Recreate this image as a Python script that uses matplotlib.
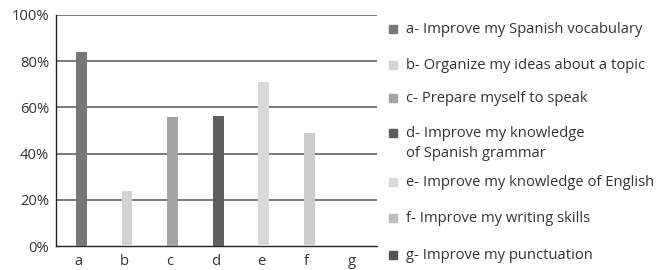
import matplotlib.pyplot as plt
from matplotlib.patches import Rectangle

plt.rcParams["font.family"] = ["Open Sans", "DejaVu Sans"]

categories = ["a", "b", "c", "d", "e", "f", "g"]
values = [83.8, 24.0, 56.0, 56.4, 71.1, 49.1, 0.0]
bar_colors = ["#77777a", "#d3d3d5", "#a4a4a6", "#5e5e60", "#d9d9da", "#cdcdcf", "#555557"]
legend_labels = [
    "a- Improve my Spanish vocabulary",
    "b- Organize my ideas about a topic",
    "c- Prepare myself to speak",
    "d- Improve my knowledge\nof Spanish grammar",
    "e- Improve my knowledge of English",
    "f- Improve my writing skills",
    "g- Improve my punctuation",
]
yticks = [0, 20, 40, 60, 80, 100]

TXT = "#333333"
W, H = 667, 270
FS = 10.6

fig = plt.figure(figsize=(W / 100, H / 100), dpi=100)
ax = fig.add_axes([56 / W, 1 - 246 / H, (377 - 56) / W, (246 - 15) / H])

xs = [i + 0.06 for i in range(len(categories))]
ax.bar(xs, values, width=0.24, color=bar_colors, zorder=3)

ax.set_xlim(-0.5, 6.55)
ax.set_ylim(0, 100)
ax.set_yticks(yticks)
ax.set_yticklabels([f"{t}%" for t in yticks])
ax.set_xticks(range(len(categories)))
ax.set_xticklabels(categories)
ax.tick_params(length=0, labelsize=FS, colors=TXT, pad=5)
ax.tick_params(axis="x", pad=6)
for t in yticks[1:]:
    ax.axhline(t, color="#555555", linewidth=1.1, zorder=1)
for side in ("top", "right"):
    ax.spines[side].set_visible(False)
for side in ("left", "bottom"):
    ax.spines[side].set_color("#222222")
    ax.spines[side].set_linewidth(1.0)

# legend drawn by hand (entries are unevenly spaced, d wraps)
rows = [29, 65, 98, 133, 182, 218, 255]
legend_colors = bar_colors[:5] + ["#bdbdbf", "#555557"]
for y, lab, col in zip(rows, legend_labels, legend_colors):
    fig.patches.append(Rectangle((389 / W, 1 - (y + 4) / H), 8 / W, 8 / H,
                                 transform=fig.transFigure, color=col))
    for k, line in enumerate(lab.split("\n")):
        fig.text(406 / W, 1 - (y + 4 + 20 * k) / H, line, fontsize=FS, color=TXT, va="baseline")

fig.savefig("out.png", dpi=100)
